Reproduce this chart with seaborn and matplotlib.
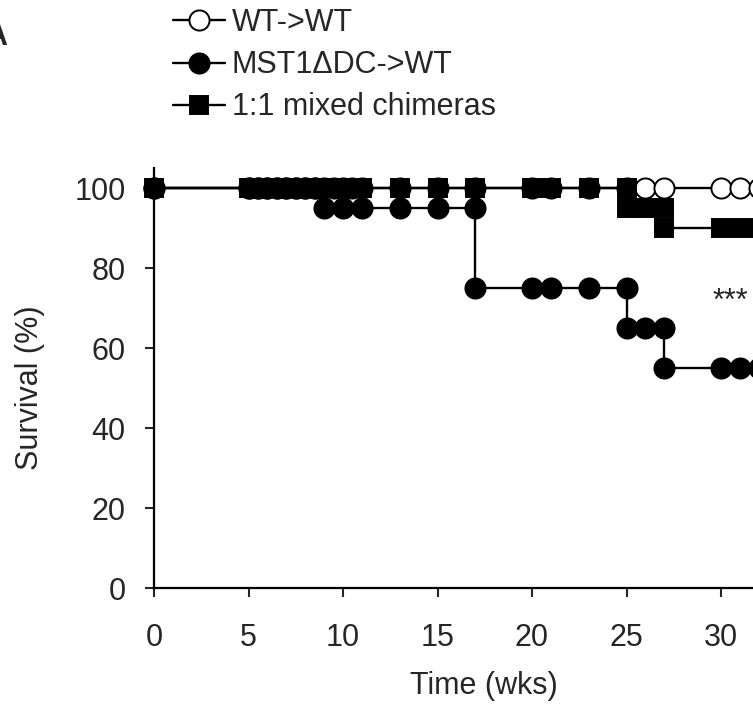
import pandas as pd
import numpy as np
import matplotlib
matplotlib.use('Agg')
import matplotlib.pyplot as plt
import seaborn as sns

# --- data (Kaplan-Meier steps, % survival vs weeks) ---
wt_time = [0, 5, 5.5, 6, 6.5, 7, 7.5, 8, 8.5, 9, 9.5, 10, 10.5, 11, 13, 15, 17, 20, 21, 23, 25, 26, 27, 30, 31, 32]
wt_surv = [100, 100, 100, 100, 100, 100, 100, 100, 100, 100, 100, 100, 100, 100, 100, 100, 100, 100, 100, 100, 100, 100, 100, 100, 100, 100]

mst_time = [0, 5, 5.5, 6, 6.5, 7, 7.5, 8, 8.5, 9, 10, 11, 13, 15, 17, 17, 20, 21, 23, 25, 25, 26, 27, 27, 30, 31, 32]
mst_surv = [100, 100, 100, 100, 100, 100, 100, 100, 100, 95, 95, 95, 95, 95, 95, 75, 75, 75, 75, 75, 65, 65, 65, 55, 55, 55, 55]

mix_time = [0, 5, 5.5, 6, 6.5, 7, 7.5, 8, 8.5, 9, 9.5, 10, 10.5, 11, 13, 15, 17, 20, 21, 23, 25, 25, 26, 27, 27, 30, 31, 32]
mix_surv = [100, 100, 100, 100, 100, 100, 100, 100, 100, 100, 100, 100, 100, 100, 100, 100, 100, 100, 100, 100, 100, 95, 95, 95, 90, 90, 90, 90]

group_labels = ['WT->WT', 'MST1\u0394DC->WT', '1:1 mixed chimeras']
x_ticks = [0, 5, 10, 15, 20, 25, 30]
y_ticks = [0, 20, 40, 60, 80, 100]
signif = '***'

sns.set_style('ticks')
plt.rcParams['font.family'] = ['Liberation Sans', 'DejaVu Sans']
FS = 22

fig = plt.figure(figsize=(7.53, 7.05), dpi=100)
# axes run past the right edge of the figure, as in the cropped reference
ax = fig.add_axes([154 / 753, 1 - 588 / 705, 661.5 / 753, 420 / 705])

common = dict(estimator=None, sort=False, drawstyle='steps-post', color='black',
              linewidth=1.7, markeredgecolor='black', markeredgewidth=1.4,
              clip_on=False, zorder=3, ax=ax)

sns.lineplot(x=wt_time, y=wt_surv, marker='o', markersize=14.5,
             markerfacecolor='white', label=group_labels[0], **common)
sns.lineplot(x=mst_time, y=mst_surv, marker='o', markersize=14.5,
             markerfacecolor='black', label=group_labels[1], **common)
sns.lineplot(x=mix_time, y=mix_surv, marker='s', markersize=13,
             markerfacecolor='black', label=group_labels[2], **common)

ax.set_xlim(0, 35)
ax.set_ylim(0, 105)
ax.set_xticks(x_ticks)
ax.set_yticks(y_ticks)
ax.tick_params(axis='both', direction='out', length=6.5, width=1.5, labelsize=FS)
ax.tick_params(axis='x', pad=19)
ax.tick_params(axis='y', pad=14)
for side in ['top', 'right']:
    ax.spines[side].set_visible(False)
for side in ['left', 'bottom']:
    ax.spines[side].set_linewidth(1.6)
    ax.spines[side].set_color('black')

ax.set_xlabel('Time (wks)', fontsize=FS)
ax.set_ylabel('Survival (%)', fontsize=FS)
axw = 661.5
axh = 420
ax.xaxis.set_label_coords((484 - 154) / axw, -(671 - 588) / axh)
ax.yaxis.set_label_coords(-(154 - 45) / axw, 50 / 105)

ax.text(30.5, 69.5, signif, fontsize=FS, ha='center', va='baseline')

leg = ax.legend(loc='upper left', bbox_to_anchor=(173 / 753, 1 - 8 / 705),
                bbox_transform=fig.transFigure, frameon=False, fontsize=FS,
                borderpad=0, borderaxespad=0, handlelength=1.7,
                handletextpad=0.23, labelspacing=0.4)

fig.text(7 / 753, 1 - 45 / 705, 'A', fontsize=FS, fontweight='bold',
         ha='right', va='baseline')

fig.savefig('out.png', dpi=100)
